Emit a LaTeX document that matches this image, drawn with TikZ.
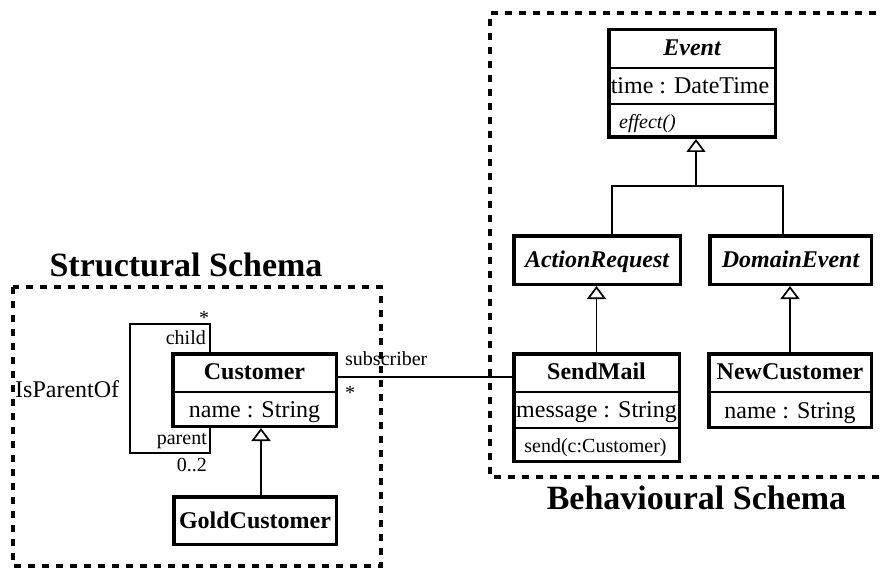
\documentclass[tikz,border=0pt]{standalone}
\usepackage{fontspec}
\setmainfont{Liberation Serif}
\usetikzlibrary{arrows.meta}
\begin{document}
\begin{tikzpicture}[x=1pt,y=-1pt,
  cls/.style={draw, line width=3.5pt, inner sep=0pt},
  div/.style={line width=1.5pt},
  conn/.style={line width=1.7pt},
  gen/.style={conn, -{Triangle[open, length=13pt, width=19pt]}},
  frame/.style={line width=3.5pt, dash pattern=on 7pt off 7pt},
  txt/.style={inner sep=0pt, text height=15.8pt, text depth=0pt, font=\fontsize{24}{28}\selectfont},
  cname/.style={txt, font=\fontsize{24}{28}\selectfont\bfseries},
  aname/.style={txt, font=\fontsize{24}{28}\selectfont\bfseries\itshape},
  lbl/.style={inner sep=0pt, text height=13.2pt, text depth=0pt, font=\fontsize{20}{24}\selectfont},
  title/.style={inner sep=0pt, text height=22.4pt, text depth=0pt, font=\fontsize{34}{40}\selectfont\bfseries}]
\useasboundingbox (0,0) rectangle (880,572);

% schema frames
\draw[frame] (890,13) -- (490,13) -- (490,477) -- (890,477);
\draw[frame] (13,287) rectangle (381,566);
\node[title] (stitle) at (186,265) {Structural Schema};
\node[title] (btitle) at (696.5,498) {Behavioural Schema};

% class boxes
\node[cls, minimum width=166.5pt, minimum height=107.5pt] (event) at (692,83.5) {};
\node[cls, minimum width=166.5pt, minimum height=48.5pt] (actreq) at (597,260) {};
\node[cls, minimum width=161.5pt, minimum height=48.5pt] (domev) at (790.5,260) {};
\node[cls, minimum width=165.5pt, minimum height=107.5pt] (sendmail) at (596.5,407.5) {};
\node[cls, minimum width=162.5pt, minimum height=73.5pt] (newcust) at (790,390.5) {};
\node[cls, minimum width=163.5pt, minimum height=72.5pt] (cust) at (254.5,390) {};
\node[cls, minimum width=162.5pt, minimum height=47.5pt] (gold) at (255,520.5) {};

% compartment dividers
\coordinate (r68) at (0,68);
\coordinate (r104) at (0,104);
\coordinate (r392) at (0,392);
\coordinate (r428) at (0,428);
\draw[div] (event.west |- r68) -- (event.east |- r68);
\draw[div] (event.west |- r104) -- (event.east |- r104);
\draw[div] (sendmail.west |- r392) -- (sendmail.east |- r392);
\draw[div] (sendmail.west |- r428) -- (sendmail.east |- r428);
\draw[div] (newcust.west |- r392) -- (newcust.east |- r392);
\draw[div] (cust.west |- r392) -- (cust.east |- r392);

% class texts
\node[aname] (event-n) at (692,48) {Event};
\node[txt] (event-a) at (690,86) {time : DateTime};
\node[lbl, anchor=west, font=\fontsize{20}{24}\selectfont\itshape] (event-o) at (619,121.5) {effect()};
\node[aname] (actreq-n) at (597,260) {ActionRequest};
\node[aname] (domev-n) at (790.5,260) {DomainEvent};
\node[cname] (sendmail-n) at (596.5,372) {SendMail};
\node[txt] (sendmail-a) at (596.5,410) {message : String};
\node[lbl] (sendmail-o) at (595.5,445.5) {send(c:Customer)};
\node[cname] (newcust-n) at (790,372) {NewCustomer};
\node[txt] (newcust-a) at (790,410.5) {name : String};
\node[cname] (cust-n) at (254.5,372) {Customer};
\node[txt] (cust-a) at (254.5,410) {name : String};
\node[cname] (gold-n) at (255,520.5) {GoldCustomer};

% generalisations
\coordinate (junc) at (696,186);
\coordinate (arx) at (612,0);
\coordinate (dex) at (783,0);
\coordinate (gx) at (261,0);
\draw[gen] (junc) -- (junc |- event.south);
\draw[conn] (actreq.north -| arx) |- (junc) -| (domev.north -| dex);
\draw[gen] (sendmail.north) -- (sendmail.north |- actreq.south);
\draw[gen] (newcust.north) -- (newcust.north |- domev.south);
\draw[gen] (gold.north -| gx) -- (cust.south -| gx);

% association Customer -- SendMail
\coordinate (ay) at (0,377);
\draw[conn] (cust.east |- ay) -- (sendmail.west |- ay);
\node[lbl, anchor=west] (subs) at (345,359) {subscriber};
\node[lbl] (subsm) at (350,393) {*};

% reflexive association IsParentOf
\coordinate (lx) at (210,0);
\draw[conn] (cust.north -| lx) -- (210,324) -- (130,324) -- (130,453) -- (210,453) -- (cust.south -| lx);
\node[lbl] (childm) at (204,317.5) {*};
\node[lbl, anchor=east] (childr) at (206,338) {child};
\node[lbl, anchor=east] (parentr) at (207,437.5) {parent};
\node[lbl, anchor=east] (parentm) at (207,465) {0..2};
\node[txt, anchor=west] (isparent) at (15,390) {IsParentOf};
\end{tikzpicture}
\end{document}
